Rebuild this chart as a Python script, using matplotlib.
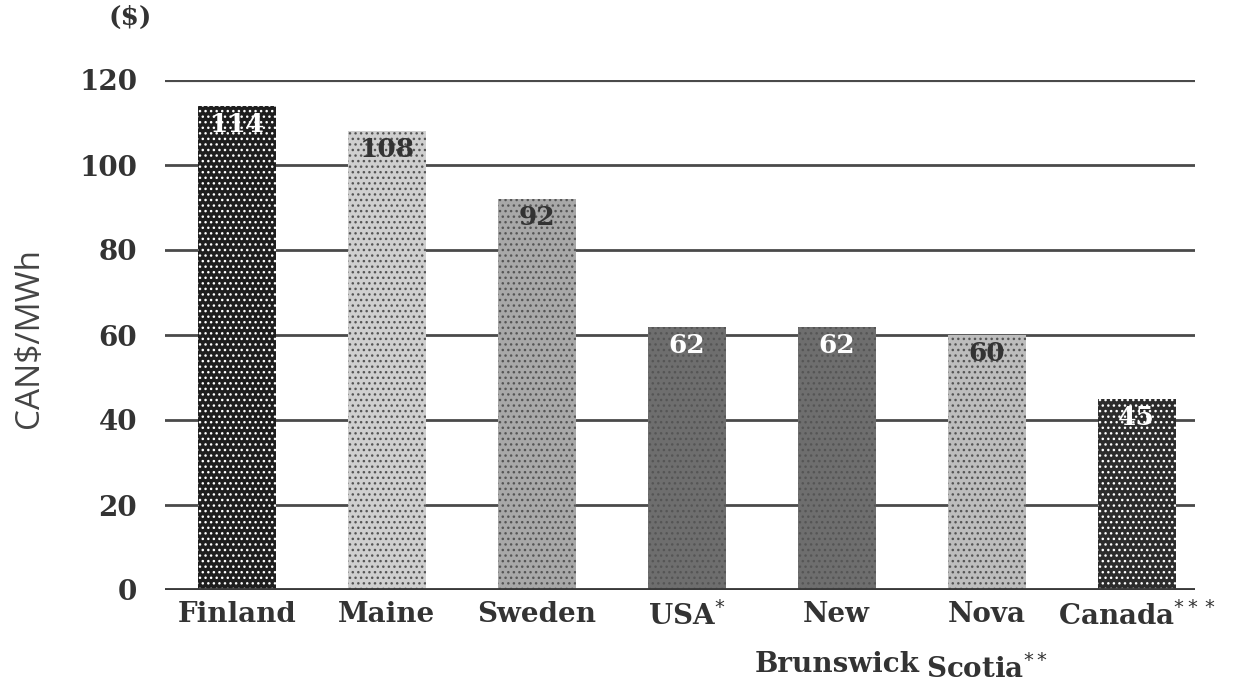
import matplotlib.pyplot as plt

# Generation cost by region
regions = ['Finland', 'Maine', 'Sweden', 'USA$^{*}$', 'New\nBrunswick',
           'Nova\nScotia$^{**}$', 'Canada$^{***}$']
costs = [114, 108, 92, 62, 62, 60, 45]
bar_colors = ['#1e1e1e', '#cfcfcf', '#a8a8a8', '#6e6e6e', '#6e6e6e', '#bdbdbd', '#2c2c2c']
label_colors = ['white', '#333333', '#333333', 'white', 'white', '#333333', 'white']
yticks = [0, 20, 40, 60, 80, 100, 120]


def main():
    fig = plt.figure(figsize=(12.38, 6.94), dpi=100)
    ax = fig.add_axes([165 / 1238, 1 - 590 / 694, 1030 / 1238, 510 / 694])

    # horizontal rules behind bars
    for y in yticks[1:]:
        lw = 3 if y == 120 else 2
        ax.axhline(y, color='#4a4a4a', linewidth=lw, zorder=1)
    ax.axhline(0, color='#3a3a3a', linewidth=3.5, zorder=3)

    xs = list(range(len(regions)))
    bars = ax.bar(xs, costs, width=0.52, color=bar_colors, zorder=2)
    # speckle texture
    for b, c in zip(bars, bar_colors):
        b.set_hatch('...')
        b.set_edgecolor('white' if c in ('#1e1e1e', '#2c2c2c') else '#555555')
        b.set_linewidth(0)

    for x, v, lc in zip(xs, costs, label_colors):
        ax.text(x, v - 1.5, str(v), ha='center', va='top', fontsize=19,
                color=lc, family='DejaVu Serif', fontweight='bold', zorder=4)

    ax.set_xlim(-0.48, 6.39)
    ax.set_ylim(0, 120)
    ax.set_yticks(yticks)
    ax.set_yticklabels([str(t) for t in yticks], family='DejaVu Serif',
                       fontweight='bold', fontsize=20, color='#333333')
    ax.set_xticks(xs)
    ax.set_xticklabels(regions, family='DejaVu Serif', fontweight='bold',
                       fontsize=20, color='#333333', linespacing=2.1, va='top')
    ax.tick_params(length=0, pad=8)
    ax.tick_params(axis='y', pad=20)
    for s in ax.spines.values():
        s.set_visible(False)

    fig.text(30 / 1238, 1 - 338 / 694, 'CAN$/MWh', rotation=90, ha='center',
             va='center', fontsize=24, color='#444444', family='Open Sans')
    fig.text(130 / 1238, 1 - 17 / 694, '($)', ha='center', va='center',
             fontsize=19, color='#333333', family='DejaVu Serif', fontweight='bold')

    plt.savefig('out.png', dpi=100)


if __name__ == '__main__':
    main()
